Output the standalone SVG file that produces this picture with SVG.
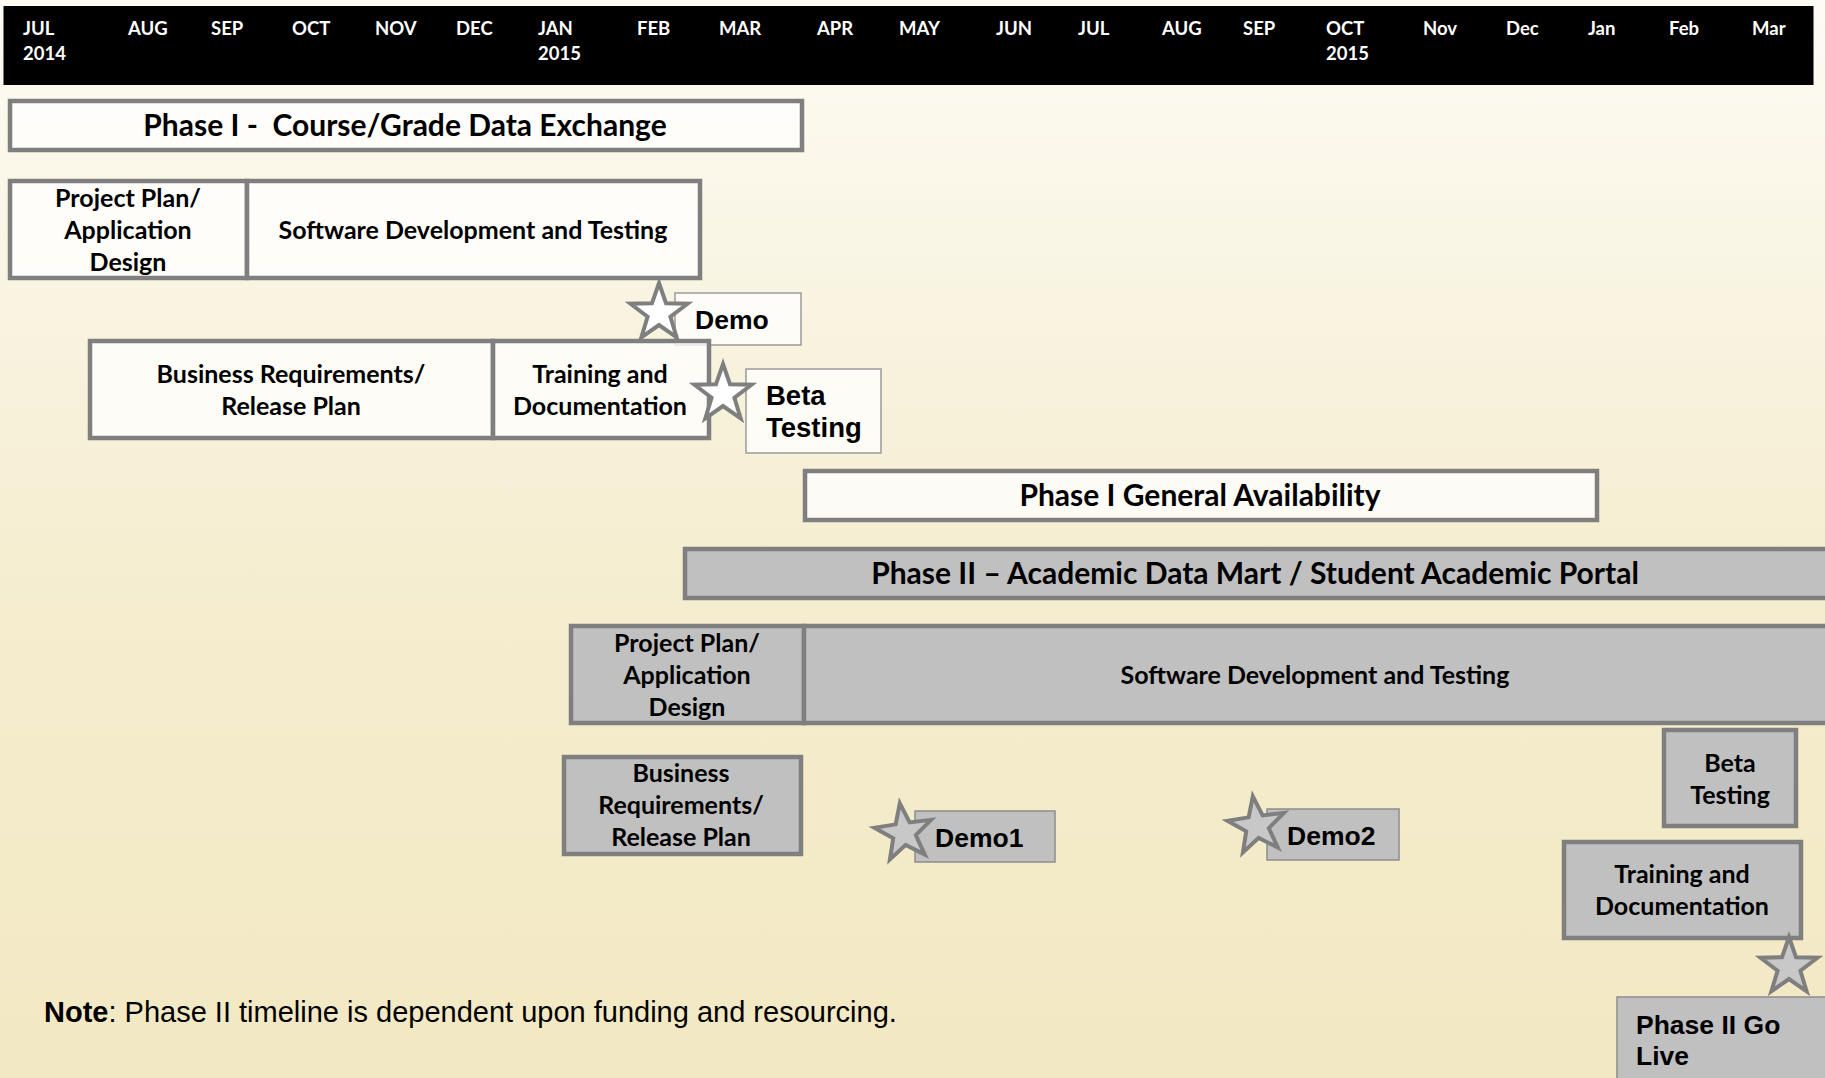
<svg xmlns="http://www.w3.org/2000/svg" width="1825" height="1078" viewBox="0 0 1825 1078">
<defs>
<linearGradient id="bg" x1="0" y1="0" x2="0" y2="1">
<stop offset="0" stop-color="#FDFBF4"/>
<stop offset="0.55" stop-color="#F5EDCF"/>
<stop offset="1" stop-color="#F2E8C3"/>
</linearGradient>
<path id="star" d="M0,-30 L7.05,-9.71 L28.53,-9.27 L11.41,3.71 L17.63,24.27 L0,12 L-17.63,24.27 L-11.41,3.71 L-28.53,-9.27 L-7.05,-9.71 Z"/>
<style>
.hdr{font-family:Lato,"Liberation Sans",sans-serif;font-weight:bold;font-size:18.5px;fill:#FFFFFF}
.w{fill:#FFFFFF;fill-opacity:0.75;stroke:#7F7F7F;stroke-width:4.5}
.g{fill:#C0C0C0;stroke:#7F7F7F;stroke-width:4.5}
.wt{fill:#FFFFFF;fill-opacity:0.75;stroke:#9A9A9A;stroke-width:1.5}
.gt{fill:#C0C0C0;stroke:#8C8C8C;stroke-width:1.5}
.t{font-family:Lato,"Liberation Sans",sans-serif;font-weight:bold;font-size:25px;fill:#000;text-anchor:middle}
.big{font-size:30px}
.a{font-family:"Liberation Sans",Arial,sans-serif;font-weight:bold;font-size:26.5px;fill:#000}
.sw{fill:#FFFFFF;stroke:#7F7F7F;stroke-width:4;stroke-linejoin:miter}
.sg{fill:#C8C8C8;stroke:#7F7F7F;stroke-width:4;stroke-linejoin:miter}
</style>
</defs>
<rect x="0" y="0" width="1825" height="1078" fill="url(#bg)"/>
<g id="timeline-header">
<rect x="3.5" y="6" width="1810" height="79" fill="#000"/>
<text class="hdr" x="23" y="35">JUL</text><text class="hdr" x="23" y="60">2014</text>
<text class="hdr" x="128" y="35">AUG</text>
<text class="hdr" x="211" y="35">SEP</text>
<text class="hdr" x="292" y="35">OCT</text>
<text class="hdr" x="375" y="35">NOV</text>
<text class="hdr" x="456" y="35">DEC</text>
<text class="hdr" x="538" y="35">JAN</text><text class="hdr" x="538" y="60">2015</text>
<text class="hdr" x="637" y="35">FEB</text>
<text class="hdr" x="719" y="35">MAR</text>
<text class="hdr" x="817" y="35">APR</text>
<text class="hdr" x="899" y="35">MAY</text>
<text class="hdr" x="996" y="35">JUN</text>
<text class="hdr" x="1078" y="35">JUL</text>
<text class="hdr" x="1162" y="35">AUG</text>
<text class="hdr" x="1243" y="35">SEP</text>
<text class="hdr" x="1326" y="35">OCT</text><text class="hdr" x="1326" y="60">2015</text>
<text class="hdr" x="1423" y="35">Nov</text>
<text class="hdr" x="1506" y="35">Dec</text>
<text class="hdr" x="1588" y="35">Jan</text>
<text class="hdr" x="1669" y="35">Feb</text>
<text class="hdr" x="1752" y="35">Mar</text>
</g>
<g id="connectors"/>
<g id="phase1">
<rect class="w" x="10" y="101" width="792" height="49"/>
<text class="t big" x="405" y="136" xml:space="preserve">Phase I -  Course/Grade Data Exchange</text>
</g>
<g id="p1-project-plan">
<rect class="w" x="10" y="181" width="237" height="97"/>
<text class="t" x="128" y="207">Project Plan/</text>
<text class="t" x="128" y="239">Application</text>
<text class="t" x="128" y="271">Design</text>
</g>
<g id="p1-software-dev">
<rect class="w" x="247" y="181" width="453" height="97"/>
<text class="t" x="473" y="239">Software Development and Testing</text>
</g>
<g id="p1-demo">
<rect class="wt" x="675" y="293" width="126" height="52"/>
<use href="#star" class="sw" x="659" y="313"/>
<text class="a" x="695" y="329">Demo</text>
</g>
<g id="p1-business-req">
<rect class="w" x="90" y="341" width="403" height="97"/>
<text class="t" x="291" y="383">Business Requirements/</text>
<text class="t" x="291" y="415">Release Plan</text>
</g>
<g id="p1-training">
<rect class="w" x="493" y="341" width="216" height="97"/>
<text class="t" x="600" y="383">Training and</text>
<text class="t" x="600" y="415">Documentation</text>
</g>
<g id="p1-beta">
<rect class="wt" x="746" y="369" width="135" height="84"/>
<use href="#star" class="sw" x="723" y="394"/>
<text class="a" x="766" y="405" style="font-size:27.5px">Beta</text>
<text class="a" x="766" y="437" style="font-size:27.5px">Testing</text>
</g>
<g id="p1-ga">
<rect class="w" x="805" y="471" width="792" height="49"/>
<text class="t big" x="1200" y="506">Phase I General Availability</text>
</g>
<g id="phase2">
<rect class="g" x="685" y="549" width="1150" height="49"/>
<text class="t big" x="1255" y="584">Phase II – Academic Data Mart / Student Academic Portal</text>
</g>
<g id="p2-project-plan">
<rect class="g" x="571" y="626" width="233" height="97"/>
<text class="t" x="687" y="652">Project Plan/</text>
<text class="t" x="687" y="684">Application</text>
<text class="t" x="687" y="716">Design</text>
</g>
<g id="p2-software-dev">
<rect class="g" x="804" y="626" width="1031" height="97"/>
<text class="t" x="1315" y="684">Software Development and Testing</text>
</g>
<g id="p2-business-req">
<rect class="g" x="564" y="757" width="237" height="97"/>
<text class="t" x="681" y="782">Business</text>
<text class="t" x="681" y="814">Requirements/</text>
<text class="t" x="681" y="846">Release Plan</text>
</g>
<g id="p2-demo1">
<rect class="gt" x="915" y="811" width="140" height="51"/>
<use href="#star" class="sg" transform="translate(904,833) rotate(-8)"/>
<text class="a" x="935" y="847">Demo1</text>
</g>
<g id="p2-demo2">
<rect class="gt" x="1267" y="809" width="132" height="51"/>
<use href="#star" class="sg" transform="translate(1257,826) rotate(-8)"/>
<text class="a" x="1287" y="845">Demo2</text>
</g>
<g id="p2-beta">
<rect class="g" x="1664" y="730" width="132" height="96"/>
<text class="t" x="1730" y="772">Beta</text>
<text class="t" x="1730" y="804">Testing</text>
</g>
<g id="p2-training">
<rect class="g" x="1564" y="842" width="237" height="96"/>
<text class="t" x="1682" y="883">Training and</text>
<text class="t" x="1682" y="915">Documentation</text>
</g>
<g id="p2-golive">
<rect class="gt" x="1617" y="997" width="215" height="90"/>
<use href="#star" class="sg" x="1789" y="967"/>
<text class="a" x="1636" y="1034">Phase II Go</text>
<text class="a" x="1636" y="1065">Live</text>
</g>
<g id="note">
<text x="44" y="1022" style="font-family:'Liberation Sans',Arial,sans-serif;font-size:29px;fill:#000"><tspan font-weight="bold">Note</tspan>: Phase II timeline is dependent upon funding and resourcing.</text>
</g>
</svg>
